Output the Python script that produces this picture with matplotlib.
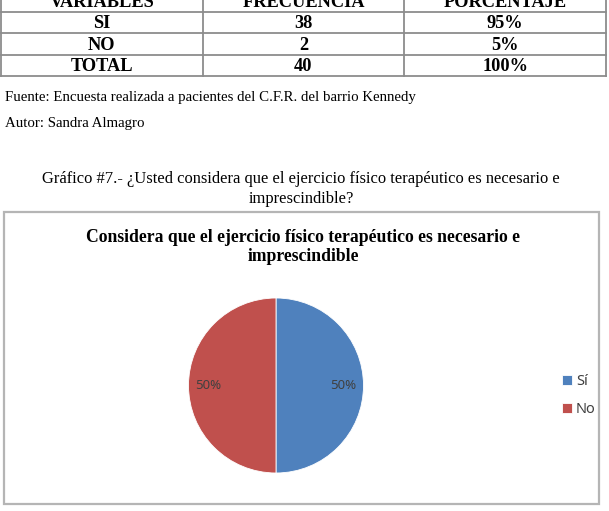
import matplotlib.pyplot as plt
from matplotlib.patches import Rectangle

W, H = 609, 511

# tabla de frecuencias
table_header = ["VARIABLES", "FRECUENCIA", "PORCENTAJE"]
table_variables = ["SI", "NO", "TOTAL"]
table_frecuencia = [38, 2, 40]
table_porcentaje = ["95%", "5%", "100%"]

# grafico de pastel
pie_labels = ["Sí", "No"]
pie_values = [50, 50]
pie_colors = ["#4F81BD", "#C0504D"]

fuente_txt = "Fuente: Encuesta realizada a pacientes del C.F.R. del barrio Kennedy"
autor_txt = "Autor: Sandra Almagro"
grafico_txt = ("Gráfico #7.- ¿Usted considera que el ejercicio físico terapéutico es necesario e\n"
               "imprescindible?")
chart_title = "Considera que el ejercicio físico terapéutico es necesario e\nimprescindible"

SERIF = ["Liberation Serif", "DejaVu Serif"]
SANS = ["Noto Sans", "DejaVu Sans"]


def fx(px):
    return px / W


def fy(py):
    return 1 - py / H


fig = plt.figure(figsize=(W / 100, H / 100), dpi=100)
fig.patch.set_facecolor("white")

# --- tabla (parte superior recortada en la referencia) ---
tab_top, tab_bottom = -9, 76
ax_t = fig.add_axes([fx(1), fy(tab_bottom), fx(605), (tab_bottom - tab_top) / H])
ax_t.set_xlim(0, 3)
ax_t.set_ylim(4, 0)
ax_t.axis("off")
grid_color = "#8c8c8c"
for r in range(5):
    ax_t.plot([0, 3], [r, r], color=grid_color, lw=1.3, clip_on=False)
for c in range(4):
    ax_t.plot([c, c], [0, 4], color=grid_color, lw=1.3, clip_on=False)

rows = [table_header] + [[v, str(f), p] for v, f, p in
                         zip(table_variables, table_frecuencia, table_porcentaje)]
for r, row in enumerate(rows):
    for c, val in enumerate(row):
        ax_t.text(c + 0.5, r + 0.55, val, ha="center", va="center",
                  family=SERIF, fontweight="bold", fontsize=13.2, color="black")

# --- textos del documento ---
fig.text(fx(5), fy(98), fuente_txt, ha="left", va="center", family=SERIF, fontsize=10.7)
fig.text(fx(5), fy(124), autor_txt, ha="left", va="center", family=SERIF, fontsize=10.7)
fig.text(fx(301), fy(189), grafico_txt, ha="center", va="center", family=SERIF,
         fontsize=11.9, linespacing=1.32)

# --- marco del grafico ---
fig.patches.append(Rectangle((fx(4), fy(504)), fx(595), (504 - 212) / H,
                             transform=fig.transFigure, fill=False,
                             edgecolor="#b5b5b5", lw=1.6))
fig.text(fx(303), fy(247), chart_title, ha="center", va="center", family=SERIF,
         fontweight="bold", fontsize=12.7, linespacing=1.1)

# --- pastel ---
cx, cy, rad = 276, 385.5, 87.5
ax_p = fig.add_axes([fx(cx - rad), fy(cy + rad), 2 * rad / W, 2 * rad / H])
wedges, texts, autotexts = ax_p.pie(
    pie_values, colors=pie_colors, startangle=90, counterclock=False,
    autopct="%1.0f%%", pctdistance=0.77,
    wedgeprops=dict(edgecolor="white", linewidth=0.6),
    textprops=dict(family=SANS, fontsize=9.5, color="#404040"))
ax_p.set_xlim(-1, 1)
ax_p.set_ylim(-1, 1)

fig.legend(wedges, pie_labels, loc="upper left", bbox_to_anchor=(fx(549), fy(361)),
           frameon=False, handlelength=0.65, handleheight=0.65, handletextpad=0.3,
           labelspacing=0.9, prop=dict(family=SANS, size=10.5), labelcolor="#404040")

fig.savefig("out.png", dpi=100, facecolor="white")
